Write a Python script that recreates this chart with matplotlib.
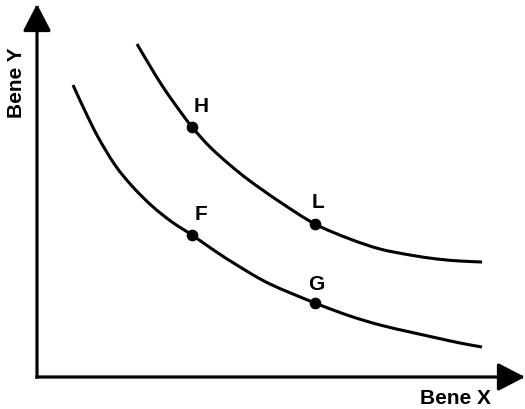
import matplotlib.pyplot as plt
from matplotlib.path import Path
from matplotlib.patches import PathPatch

# indifference curves (x right from origin, y up from origin)
upper_x = [100, 113, 126, 140, 155, 173, 193, 213, 243, 278, 313, 343, 373, 400, 423, 445]
upper_y = [333, 311, 290, 270, 250, 230, 212, 196, 175, 153, 138, 128, 122, 118, 116, 115]

lower_x = [36, 48, 61, 78, 95, 115, 135, 155, 178, 203, 233, 278, 313, 343, 373, 400, 423, 445]
lower_y = [292, 266, 240, 212, 191, 171, 155, 142, 126, 110, 93, 74, 61, 52, 45, 39, 34, 30]

point_names = ['H', 'L', 'F', 'G']
point_x = [155, 278, 155, 278]
point_y = [250, 153, 142, 74]
label_offsets = [(9, 21), (3, 22), (9, 21), (1, 19)]

x_label = 'Bene X'
y_label = 'Bene Y'


def smooth_curve(xs, ys):
    # cubic bezier path through the points (catmull-rom style handles)
    pts = list(zip(xs, ys))
    verts = [pts[0]]
    codes = [Path.MOVETO]
    for i in range(len(pts) - 1):
        p0 = pts[i - 1] if i > 0 else pts[i]
        p1 = pts[i]
        p2 = pts[i + 1]
        p3 = pts[i + 2] if i + 2 < len(pts) else pts[i + 1]
        c1 = (p1[0] + (p2[0] - p0[0]) / 6, p1[1] + (p2[1] - p0[1]) / 6)
        c2 = (p2[0] - (p3[0] - p1[0]) / 6, p2[1] - (p3[1] - p1[1]) / 6)
        verts += [c1, c2, p2]
        codes += [Path.CURVE4] * 3
    return Path(verts, codes)


plt.rcParams['font.family'] = ['Liberation Sans', 'DejaVu Sans']

fig = plt.figure(figsize=(5.25, 4.1), dpi=100)
ax = fig.add_axes([0, 0, 1, 1])
ax.set_xlim(-37, 488)
ax.set_ylim(-32, 378)
ax.axis('off')

# axes with arrow heads
arrow = dict(arrowstyle='-|>,head_length=0.83,head_width=0.43', mutation_scale=20,
             lw=2.3, color='black', shrinkA=0, shrinkB=0, capstyle='projecting')
ax.annotate('', xy=(0, 373), xytext=(0, 0), arrowprops=arrow)
ax.annotate('', xy=(488, 0), xytext=(0, 0), arrowprops=arrow)

for xs, ys in [(upper_x, upper_y), (lower_x, lower_y)]:
    ax.add_patch(PathPatch(smooth_curve(xs, ys), facecolor='none',
                           edgecolor='black', lw=2.2, capstyle='butt'))
ax.scatter(point_x, point_y, s=55, color='black', zorder=3)

for name, px, py, off in zip(point_names, point_x, point_y, label_offsets):
    ax.annotate(name, (px, py), xytext=off, textcoords='offset pixels',
                ha='center', va='center', fontsize=15, fontweight='bold')

ax.text(455 / 525, 1 - 399 / 410, x_label, transform=ax.transAxes,
        ha='center', va='center', fontsize=15, fontweight='bold')
ax.text(16 / 525, 1 - 83 / 410, y_label, transform=ax.transAxes, rotation=90,
        ha='center', va='center', fontsize=15, fontweight='bold')

fig.savefig('out.png', dpi=100)
